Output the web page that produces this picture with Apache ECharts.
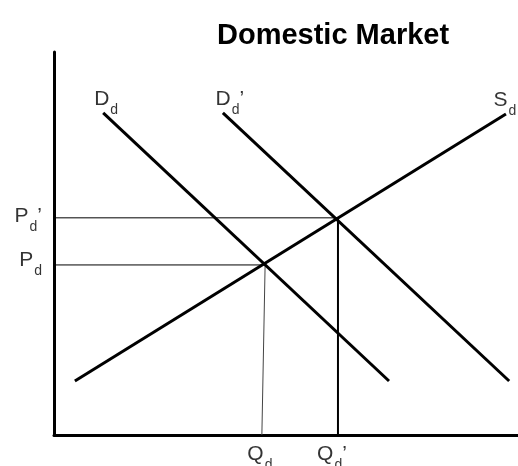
<!DOCTYPE html>
<html>
<head>
<meta charset="utf-8">
<script src="https://cdn.jsdelivr.net/npm/echarts@6/dist/echarts.min.js"></script>
<style>
  html, body { margin: 0; padding: 0; background: #fff; }
  #chart { width: 518px; height: 466px; }
</style>
</head>
<body>
<div id="chart"></div>
<script>
// curve end points (quantity 0-100, price 0-100)
const supply = [[4.5, 14.1], [97.4, 83.8]];
const demand = [[10.6, 84.1], [72.2, 14.1]];
const demandNew = [[36.4, 84.1], [98.1, 14.1]];

// equilibria: before and after the demand shift
const eqPrice = [44.4, 56.7];
const eqQuantity = [45.5, 61.2];
const axisQuantity = [44.8, 61.2];   // where the drop lines meet the x axis

const font = 'Liberation Sans, Arial, sans-serif';

const lbl = (letter, prime) => '{m|' + letter + '}{s|d}' + (prime ? '{m|\u2019}' : '');
const rich = {
    m: { fontSize: 21, lineHeight: 24, verticalAlign: 'top', color: '#000', fontFamily: font },
    s: { fontSize: 14, lineHeight: 14, verticalAlign: 'top', padding: [14, 0, 0, 1], color: '#000', fontFamily: font }
};

const chart = echarts.init(document.getElementById('chart'));

const line = (data, width, color) => ({
    type: 'line',
    data: data,
    symbol: 'none',
    silent: true,
    lineStyle: { color: color, width: width }
});

chart.setOption({
    animation: false,
    title: {
        text: 'Domestic Market',
        left: 212,
        top: 16,
        textStyle: { fontSize: 29, fontWeight: 'bold', color: '#000', fontFamily: font }
    },
    grid: { left: 54, right: 0, top: 52, bottom: 31 },
    xAxis: {
        type: 'value', min: 0, max: 100,
        axisLine: { lineStyle: { color: '#000', width: 3 } },
        axisTick: { show: false }, axisLabel: { show: false }, splitLine: { show: false }
    },
    yAxis: {
        type: 'value', min: 0, max: 100,
        axisLine: { show: true, lineStyle: { color: '#000', width: 3 } },
        axisTick: { show: false }, axisLabel: { show: false }, splitLine: { show: false }
    },
    series: [
        line([[0, eqPrice[1]], [eqQuantity[1], eqPrice[1]]], 1, '#000'),
        line([[0, eqPrice[0]], [eqQuantity[0], eqPrice[0]]], 1, '#000'),
        line([[eqQuantity[0], eqPrice[0]], [axisQuantity[0], 0]], 1, '#444'),
        line([[eqQuantity[1], eqPrice[1]], [axisQuantity[1], 0]], 2, '#000'),
        line(supply, 3, '#000'),
        line(demand, 3, '#000'),
        line(demandNew, 3, '#000'),
        {
            type: 'scatter',
            symbolSize: 0,
            silent: true,
            data: [
                { value: [0, eqPrice[0]], label: { position: 'left', offset: [0, -3], formatter: lbl('P', false) } },
                { value: [0, eqPrice[1]], label: { position: 'left', formatter: lbl('P', true) } },
                { value: [axisQuantity[0], 0], label: { position: 'bottom', distance: 9, offset: [-2, 0], formatter: lbl('Q', false) } },
                { value: [axisQuantity[1], 0], label: { position: 'bottom', distance: 9, offset: [-6, 0], formatter: lbl('Q', true) } },
                { value: demand[0], label: { position: 'top', distance: 0, offset: [3, 0], formatter: lbl('D', false) } },
                { value: demandNew[0], label: { position: 'top', distance: 0, offset: [7, 0], formatter: lbl('D', true) } },
                { value: supply[1], label: { position: 'top', distance: 0, offset: [-1, 0], formatter: lbl('S', false) } }
            ],
            label: { show: true, distance: 12, color: '#000', rich: rich }
        }
    ]
});
</script>
</body>
</html>
